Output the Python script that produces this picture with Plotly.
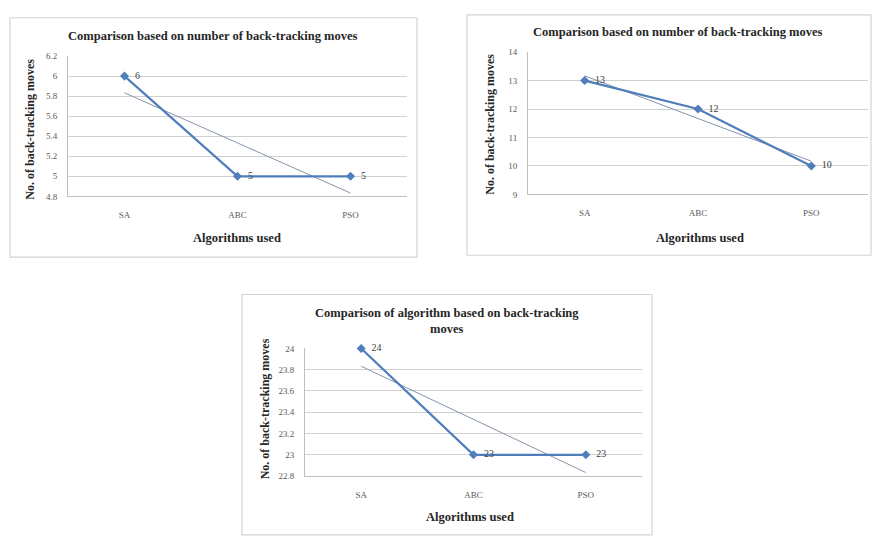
import plotly.graph_objects as go

W, H = 872, 536

categories = ["SA", "ABC", "PSO"]

# Panel 1
values1 = [6, 5, 5]
labels1 = ["6", "5", "5"]
trend1 = [5.833, 5.333, 4.833]
# Panel 2
values2 = [13, 12, 10]
labels2 = ["13", "12", "10"]
trend2 = [13.167, 11.667, 10.167]
# Panel 3
values3 = [24, 23, 23]
labels3 = ["24", "23", "23"]
trend3 = [23.833, 23.333, 22.833]

titles = ["Comparison based on number of back-tracking moves",
          "Comparison based on number of back-tracking moves",
          "Comparison of algorithm based on back-tracking<br>moves"]
x_title = "Algorithms used"
y_title = "No. of back-tracking moves"

SERIES = "#4F7EBB"
TREND = "#8494ad"
GRID = "#d0d0d0"
TXT = "#404040"
FONT = "Liberation Serif, Times New Roman, serif"

panels = [
    dict(plot=(68, 407, 52, 195), box=(10, 417, 13, 257), rng=(4.8, 6.2), dt=0.2,
         vals=values1, labs=labels1, trend=trend1, title=titles[0], ty=32, tx=213,
         ytx=30, yty=127, xtx=237, xty=237),
    dict(plot=(528, 868, 48, 193), box=(467, 871, 10, 255), rng=(9, 14), dt=1,
         vals=values2, labs=labels2, trend=trend2, title=titles[1], ty=28, tx=678,
         ytx=490, yty=122, xtx=700, xty=237),
    dict(plot=(305, 642, 350, 480), box=(242, 652, 295, 540), rng=(22.8, 24), dt=0.2,
         vals=values3, labs=labels3, trend=trend3, title=titles[2], ty=322, tx=447,
         ytx=265, yty=412, xtx=470, xty=522),
]

fig = go.Figure()
layout = dict(width=W, height=H, margin=dict(l=0, r=0, t=0, b=0),
              paper_bgcolor="white", plot_bgcolor="white", showlegend=False,
              font=dict(family=FONT, color=TXT))
shapes, annotations = [], []

for i, p in enumerate(panels, start=1):
    xa = "x" if i == 1 else f"x{i}"
    ya = "y" if i == 1 else f"y{i}"
    x0, x1, y0, y1 = p["plot"]
    key_x = "xaxis" if i == 1 else f"xaxis{i}"
    key_y = "yaxis" if i == 1 else f"yaxis{i}"
    layout[key_x] = dict(domain=[x0 / W, x1 / W], anchor=ya, type="category",
                         categoryorder="array", categoryarray=categories,
                         range=[-0.5, 2.5], showgrid=False, showline=True,
                         linecolor="#bfbfbf", ticks="", ticklabelstandoff=10,
                         tickfont=dict(family=FONT, size=9, color="#595959"),
                         fixedrange=True)
    layout[key_y] = dict(domain=[1 - y1 / H, 1 - y0 / H], anchor=xa,
                         range=list(p["rng"]), dtick=p["dt"], tick0=p["rng"][0],
                         showgrid=True, gridcolor=GRID, gridwidth=1,
                         showline=True, linecolor="#bfbfbf", ticks="",
                         zeroline=False, ticklabelstandoff=8,
                         tickfont=dict(family=FONT, size=9, color="#595959"),
                         fixedrange=True)
    fig.add_trace(go.Scatter(x=categories, y=p["trend"], mode="lines",
                             line=dict(color=TREND, width=1),
                             xaxis=xa, yaxis=ya, hoverinfo="skip"))
    fig.add_trace(go.Scatter(x=categories, y=p["vals"], mode="lines+markers+text",
                             line=dict(color=SERIES, width=2.2),
                             marker=dict(symbol="diamond", size=7, color=SERIES),
                             text=["  " + t for t in p["labs"]],
                             textposition="middle right",
                             textfont=dict(family=FONT, size=10, color=TXT),
                             xaxis=xa, yaxis=ya, cliponaxis=False))
    bx0, bx1, by0, by1 = p["box"]
    shapes.append(dict(type="rect", xref="paper", yref="paper",
                       x0=bx0 / W, x1=bx1 / W, y0=1 - by1 / H, y1=1 - by0 / H,
                       line=dict(color="#d4d4d4", width=1.2), layer="below"))
    annotations.append(dict(text=f"<b>{p['title']}</b>", xref="paper", yref="paper",
                            x=p["tx"] / W, y=1 - p["ty"] / H, showarrow=False,
                            xanchor="center", yanchor="middle",
                            font=dict(family=FONT, size=12.5, color="#262626")))
    annotations.append(dict(text=f"<b>{y_title}</b>", xref="paper", yref="paper",
                            x=p["ytx"] / W, y=1 - p["yty"] / H, showarrow=False,
                            textangle=-90, xanchor="center", yanchor="middle",
                            font=dict(family=FONT, size=12, color="#262626")))
    annotations.append(dict(text=f"<b>{x_title}</b>", xref="paper", yref="paper",
                            x=p["xtx"] / W, y=1 - p["xty"] / H, showarrow=False,
                            xanchor="center", yanchor="middle",
                            font=dict(family=FONT, size=12.5, color="#262626")))

layout["shapes"] = shapes
layout["annotations"] = annotations
fig.update_layout(**layout)
fig.write_html("out.html")
